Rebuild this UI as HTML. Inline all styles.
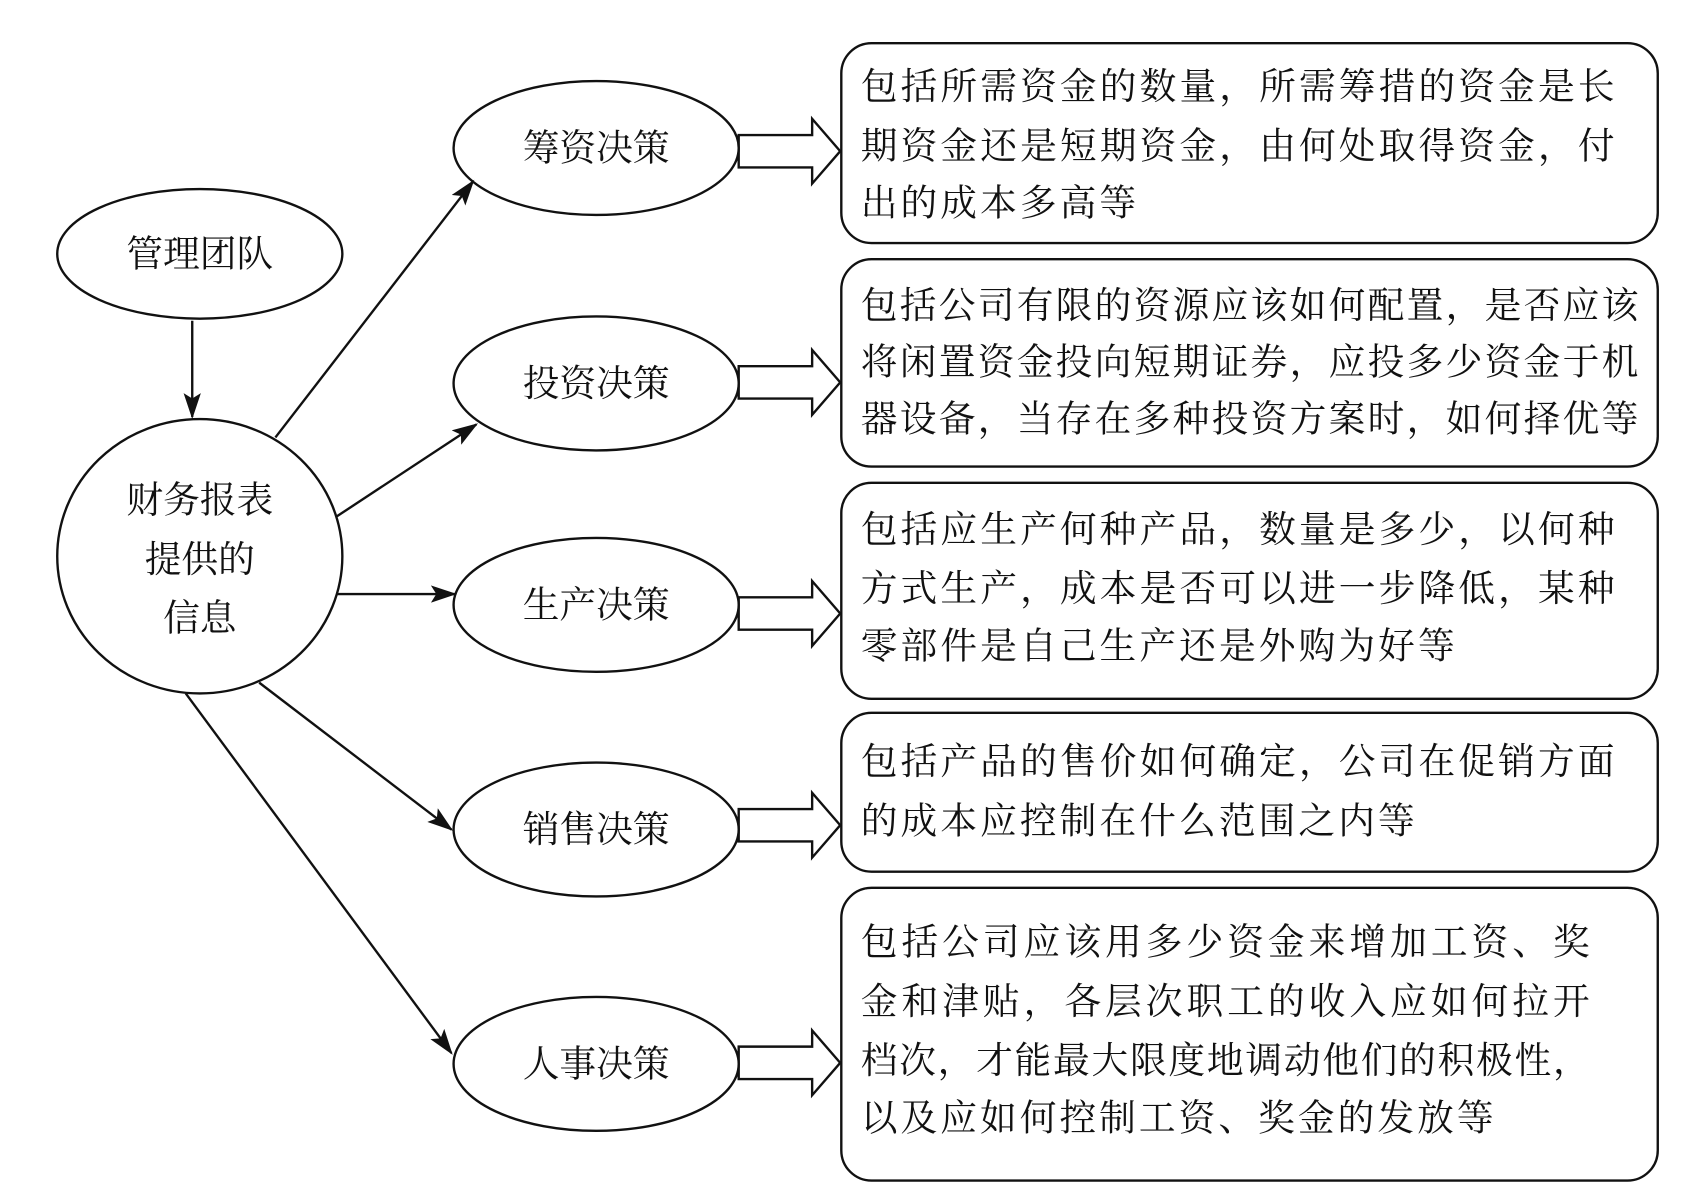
<!DOCTYPE html>
<html><head><meta charset="utf-8"><style>
html,body{margin:0;padding:0;background:#fff;}
svg{display:block;}
text{font-family:"Liberation Serif","Noto Serif CJK SC","Noto Sans CJK SC",serif;fill:#111;}
</style></head><body>
<svg width="1688" height="1200" viewBox="0 0 1563 1111" preserveAspectRatio="none" xmlns="http://www.w3.org/2000/svg">
<defs>
<marker id="b" markerWidth="24" markerHeight="16" refX="22" refY="8" orient="auto" markerUnits="userSpaceOnUse"><path d="M0,0 L24,8 L0,16 L5,8 Z" fill="#111"/></marker></defs>
<g fill="none" stroke="#111" stroke-width="2.2">
<ellipse cx="185" cy="235" rx="132" ry="60"/>
<ellipse cx="185" cy="515" rx="132" ry="127"/>
<ellipse cx="552" cy="137" rx="132" ry="62"/>
<ellipse cx="552" cy="355" rx="132" ry="62"/>
<ellipse cx="552" cy="560" rx="132" ry="62"/>
<ellipse cx="552" cy="768" rx="132" ry="62"/>
<ellipse cx="552" cy="985" rx="132" ry="62"/>
<line x1="178" y1="297" x2="178" y2="386" marker-end="url(#b)"/>
<line x1="255" y1="405" x2="438" y2="168" marker-end="url(#b)"/>
<line x1="312" y1="478" x2="441" y2="393" marker-end="url(#b)"/>
<line x1="312" y1="550" x2="421" y2="550" marker-end="url(#b)"/>
<line x1="240" y1="632" x2="418" y2="768" marker-end="url(#b)"/>
<line x1="172" y1="642" x2="418" y2="975" marker-end="url(#b)"/>
<rect x="779" y="40" width="756" height="185" rx="28"/>
<rect x="779" y="240" width="756" height="192" rx="28"/>
<rect x="779" y="447" width="756" height="200" rx="28"/>
<rect x="779" y="660" width="756" height="147" rx="28"/>
<rect x="779" y="822" width="756" height="271" rx="28"/>
<path d="M684,125 L752,125 L752,110 L778,140 L752,170 L752,155 L684,155 Z"/>
<path d="M684,339 L752,339 L752,324 L778,354 L752,384 L752,369 L684,369 Z"/>
<path d="M684,553 L752,553 L752,538 L778,568 L752,598 L752,583 L684,583 Z"/>
<path d="M684,749 L752,749 L752,734 L778,764 L752,794 L752,779 L684,779 Z"/>
<path d="M684,969 L752,969 L752,954 L778,984 L752,1014 L752,999 L684,999 Z"/>
</g>
<g font-size="34" text-anchor="middle" dominant-baseline="central">
<text x="185" y="235">管理团队</text>
<text x="185" y="463">财务报表</text>
<text x="185" y="518">提供的</text>
<text x="185" y="572">信息</text>
<text x="552" y="137">筹资决策</text>
<text x="552" y="355">投资决策</text>
<text x="552" y="560">生产决策</text>
<text x="552" y="768">销售决策</text>
<text x="552" y="985">人事决策</text>
</g>
<g font-size="34" dominant-baseline="central" lengthAdjust="spacing">
<text x="797" y="80" textLength="698">包括所需资金的数量，所需筹措的资金是长</text>
<text x="797" y="135" textLength="698">期资金还是短期资金，由何处取得资金，付</text>
<text x="797" y="188" textLength="255">出的成本多高等</text>
<text x="797" y="283" textLength="720">包括公司有限的资源应该如何配置，是否应该</text>
<text x="797" y="335" textLength="720">将闲置资金投向短期证券，应投多少资金于机</text>
<text x="797" y="388" textLength="720">器设备，当存在多种投资方案时，如何择优等</text>
<text x="797" y="490" textLength="698">包括应生产何种产品，数量是多少，以何种</text>
<text x="797" y="545" textLength="698">方式生产，成本是否可以进一步降低，某种</text>
<text x="797" y="598" textLength="550">零部件是自己生产还是外购为好等</text>
<text x="797" y="705" textLength="698">包括产品的售价如何确定，公司在促销方面</text>
<text x="797" y="760" textLength="513">的成本应控制在什么范围之内等</text>
<text x="797" y="872" textLength="675">包括公司应该用多少资金来增加工资、奖</text>
<text x="797" y="927" textLength="675">金和津贴，各层次职工的收入应如何拉开</text>
<text x="797" y="982" textLength="675">档次，才能最大限度地调动他们的积极性，</text>
<text x="797" y="1035" textLength="586">以及应如何控制工资、奖金的发放等</text>
</g>
</svg>
</body></html>
